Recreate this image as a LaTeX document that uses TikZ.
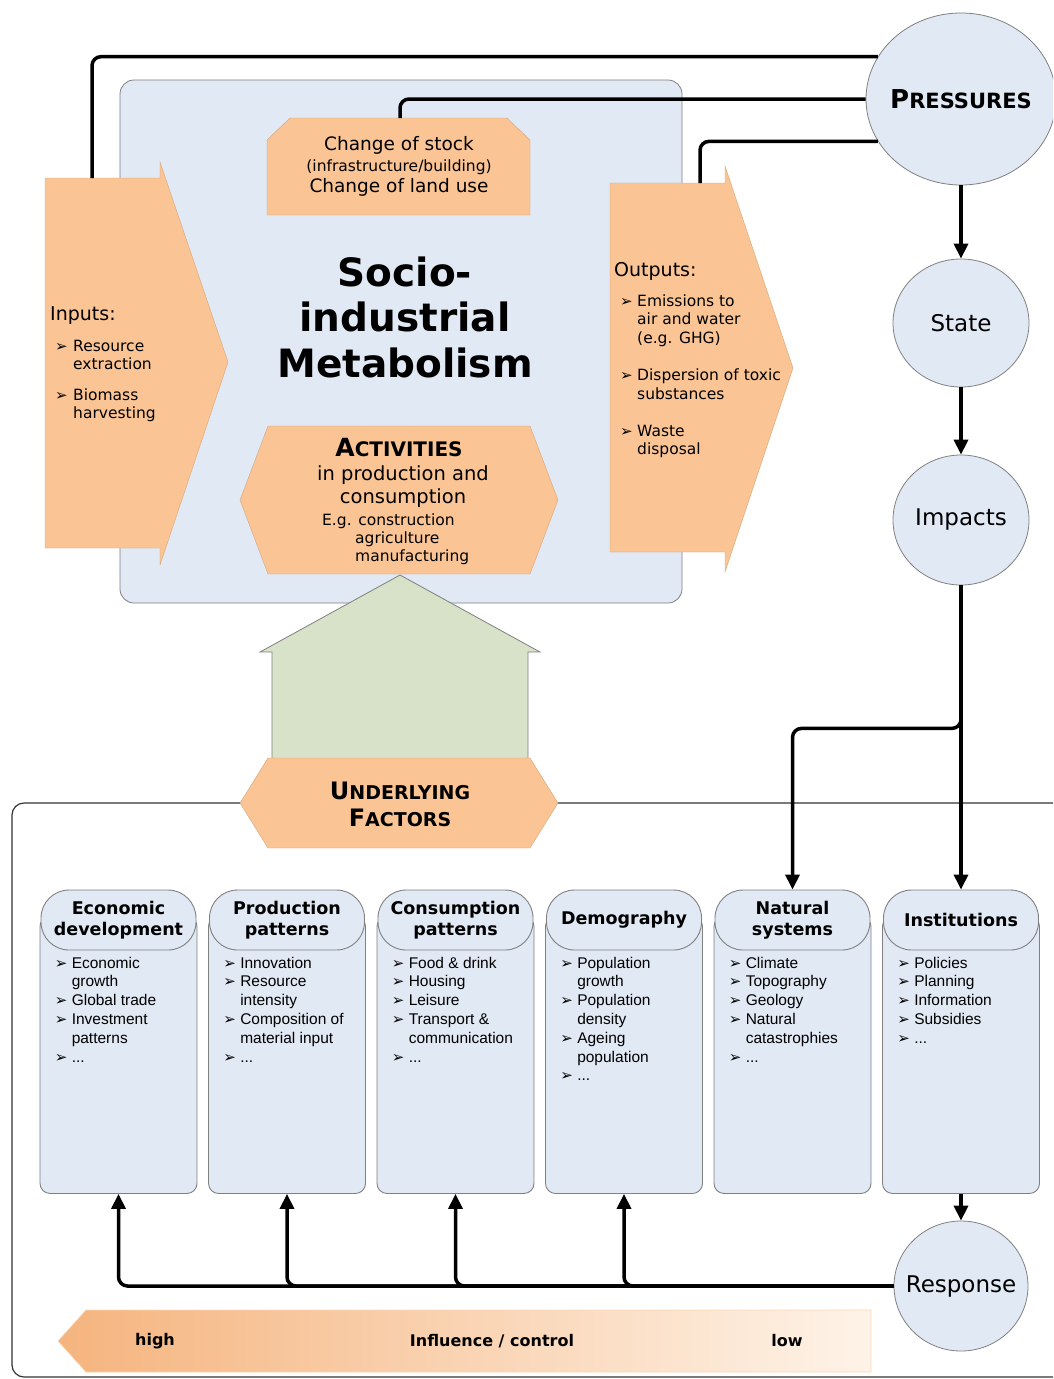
\documentclass[tikz,border=0pt]{standalone}
\usepackage{fontspec}
\setmainfont{DejaVu Sans}
\newfontfamily\listfont{Liberation Sans}
\newfontfamily\dingfont{DejaVu Sans}
\usetikzlibrary{arrows.meta,shapes.geometric}
\definecolor{peach}{RGB}{250,196,148}
\definecolor{peachdeep}{RGB}{245,180,126}
\definecolor{peachpale}{RGB}{254,243,232}
\definecolor{paleblue}{RGB}{225,233,244}
\definecolor{sage}{RGB}{216,226,201}
\definecolor{rim}{RGB}{128,128,128}
\newcommand{\itemmark}[1][17pt]{\makebox[#1][l]{\dingfont\fontsize{15}{15}\selectfont ➢}}
\tikzset{
  txt/.style={inner sep=0pt},
  wire/.style={line width=3.5pt, rounded corners=9pt},
  tip/.style={-{Triangle[length=15pt,width=14pt]}},
  peachshape/.style={fill=peach, draw=peach!85!black, line width=0.4pt},
  circ/.style={ellipse, fill=paleblue, draw=rim, line width=0.8pt, inner sep=0pt, font=\fontsize{23}{27}\selectfont},
  colbody/.style={rectangle, rounded corners=10pt, fill=paleblue, draw=rim, line width=0.9pt, minimum width=157pt, minimum height=277pt, anchor=north},
  colhead/.style={rectangle, rounded corners=28pt, fill=paleblue, draw=rim, line width=0.9pt, minimum width=155pt, minimum height=60pt, inner sep=0pt, align=center, font=\fontsize{17.5}{20.5}\selectfont\bfseries},
  itemlist/.style={txt, anchor=base west, font=\listfont\fontsize{15.5}{18.8}\selectfont},
}
\begin{document}
\begin{tikzpicture}[x=1pt,y=-1pt]
\useasboundingbox (0,0) rectangle (1053,1379);
\clip (0,0) rectangle (1053,1379);

\draw[black!80, line width=1.2pt, rounded corners=12pt] (12,803) rectangle (1100,1377);
\node[rectangle, rounded corners=14pt, fill=paleblue, draw=rim, line width=0.8pt, minimum width=562pt, minimum height=523pt] (simBox) at (401,341.5) {};

\draw[peachshape] (45,178) -- (160,178) -- (160,162) -- (228,362) -- (160,565) -- (160,548) -- (45,548) -- cycle;
\coordinate (inTop) at (92,178);
\draw[peachshape] (610,183) -- (725,183) -- (725,166) -- (793,368) -- (725,572) -- (725,552) -- (610,552) -- cycle;
\coordinate (outTop) at (700,183);
\draw[peachshape] (267,140) -- (290,118) -- (507,118) -- (530,140) -- (530,215) -- (267,215) -- cycle;
\coordinate (stockTop) at (400,118);
\draw[peachshape] (240,500) -- (268,426) -- (530,426) -- (558,500) -- (530,574) -- (268,574) -- cycle;
\draw[fill=sage, draw=rim, line width=0.8pt] (400,575) -- (540,652) -- (528,652) -- (528,760) -- (272,760) -- (272,652) -- (260,652) -- cycle;
\draw[peachshape] (240,803) -- (268,758) -- (530,758) -- (558,803) -- (530,848) -- (268,848) -- cycle;

\foreach \nm/\cx/\hd in {eco/118.5/{Economic\\development}, prod/287/{Production\\patterns},
    cons/455.5/{Consumption\\patterns}, demo/624/Demography, nat/792.5/{Natural\\systems}, inst/961/Institutions} {
  \node[colbody] (\nm) at (\cx,916) {};
  \node[colhead] (\nm H) at (\cx,920) {\hd};
}

\shadedraw[left color=peachdeep, right color=peachpale, draw=peach!70, line width=0.6pt]
  (58,1341) -- (86,1310) -- (871,1310) -- (871,1372) -- (86,1372) -- cycle;

\node[circ, minimum width=190pt, minimum height=172pt] (pres) at (961,99)
  {\makebox[0pt]{\bfseries{\fontsize{26}{26}\selectfont P}{\fontsize{21}{21}\selectfont RESSURES}}};
\node[circ, minimum width=136pt, minimum height=128pt] (state) at (961,323) {\makebox[0pt]{State}};
\node[circ, minimum width=136pt, minimum height=130pt] (imp) at (961,520) {\makebox[0pt]{Impacts}};
\node[circ, minimum width=134pt, minimum height=130pt] (resp) at (961,1286) {\makebox[0pt]{Response}};

\node[txt, anchor=base west, font=\fontsize{19}{22}\selectfont] (inHd) at (50,320) {Inputs:};
\node[txt, anchor=base west, font=\fontsize{15.5}{18}\selectfont] (inList) at (55,351)
  {\begin{tabular}[t]{@{}l@{}l@{}}\itemmark[18pt] & Resource\\ & extraction\\[13pt]
   \itemmark[18pt] & Biomass\\ & harvesting\end{tabular}};
\node[txt, anchor=base west, font=\fontsize{19}{22}\selectfont] (outHd) at (614,276) {Outputs:};
\node[txt, anchor=base west, font=\fontsize{15.5}{18.8}\selectfont] (outList) at (620,306)
  {\begin{tabular}[t]{@{}l@{}l@{}}\itemmark & Emissions to\\ & air and water\\ & (e.g. GHG)\\[18pt]
   \itemmark & Dispersion of toxic\\ & substances\\[18pt]
   \itemmark & Waste\\ & disposal\end{tabular}};
\node[txt, align=center, font=\fontsize{18.5}{21}\selectfont] (stock) at (399,166)
  {Change of stock\\{\fontsize{15.5}{21}\selectfont (infrastructure/building)}\\Change of land use};
\node[txt, align=center, font=\fontsize{39}{45.5}\selectfont\bfseries] (sim) at (405,317)
  {Socio-\\industrial\\Metabolism};
\node[txt, anchor=base, font=\bfseries] (act) at (399,456)
  {{\fontsize{25}{25}\selectfont A}{\fontsize{20}{20}\selectfont CTIVITIES}};
\node[txt, align=center, font=\fontsize{19.5}{23}\selectfont] (actTxt) at (403,487)
  {in production and\\consumption};
\node[txt, anchor=base west, font=\fontsize{15.5}{18}\selectfont] (actEg) at (322,525)
  {\begin{tabular}[t]{@{}l@{}}E.g. construction\\\hspace*{33pt}agriculture\\\hspace*{33pt}manufacturing\end{tabular}};
\node[txt, align=center, font=\fontsize{19}{27}\selectfont\bfseries] (und) at (400,804)
  {{\fontsize{24}{27}\selectfont U}NDERLYING\\{\fontsize{24}{27}\selectfont F}ACTORS};

\node[itemlist] (ecoL) at ([xshift=15pt,yshift=-52pt]eco.north west)
  {\begin{tabular}[t]{@{}l@{}l@{}}\itemmark & Economic\\ & growth\\ \itemmark & Global trade\\
   \itemmark & Investment\\ & patterns\\ \itemmark & ...\end{tabular}};
\node[itemlist] (prodL) at ([xshift=15pt,yshift=-52pt]prod.north west)
  {\begin{tabular}[t]{@{}l@{}l@{}}\itemmark & Innovation\\ \itemmark & Resource\\ & intensity\\
   \itemmark & Composition of\\ & material input\\ \itemmark & ...\end{tabular}};
\node[itemlist] (consL) at ([xshift=15pt,yshift=-52pt]cons.north west)
  {\begin{tabular}[t]{@{}l@{}l@{}}\itemmark & Food \& drink\\ \itemmark & Housing\\ \itemmark & Leisure\\
   \itemmark & Transport \&\\ & communication\\ \itemmark & ...\end{tabular}};
\node[itemlist] (demoL) at ([xshift=15pt,yshift=-52pt]demo.north west)
  {\begin{tabular}[t]{@{}l@{}l@{}}\itemmark & Population\\ & growth\\ \itemmark & Population\\ & density\\
   \itemmark & Ageing\\ & population\\ \itemmark & ...\end{tabular}};
\node[itemlist] (natL) at ([xshift=15pt,yshift=-52pt]nat.north west)
  {\begin{tabular}[t]{@{}l@{}l@{}}\itemmark & Climate\\ \itemmark & Topography\\ \itemmark & Geology\\
   \itemmark & Natural\\ & catastrophies\\ \itemmark & ...\end{tabular}};
\node[itemlist] (instL) at ([xshift=15pt,yshift=-52pt]inst.north west)
  {\begin{tabular}[t]{@{}l@{}l@{}}\itemmark & Policies\\ \itemmark & Planning\\ \itemmark & Information\\
   \itemmark & Subsidies\\ \itemmark & ...\end{tabular}};

\node[txt, font=\fontsize{16}{18}\selectfont\bfseries] (high) at (155,1341) {high};
\node[txt, font=\fontsize{16}{18}\selectfont\bfseries] (infl) at (492,1341) {Influence / control};
\node[txt, font=\fontsize{16}{18}\selectfont\bfseries] (low) at (787,1341) {low};

\draw[wire] (inTop) |- (pres.153);
\draw[wire] (stockTop) |- (pres.west);
\draw[wire] (outTop) |- (pres.207);
\draw[wire,tip] (pres.south) -- (state.north);
\draw[wire,tip] (state.south) -- (imp.north);
\draw[wire,tip] (imp.south) -- (instH.north);
\draw[wire,tip] (imp.south) -- ++(0,143) -| (natH.north);
\draw[wire,tip] (inst.south) -- (resp.north);
\foreach \nm in {eco,prod,cons,demo}
  \draw[wire,tip] (resp.west) -| (\nm.south);
\end{tikzpicture}
\end{document}
